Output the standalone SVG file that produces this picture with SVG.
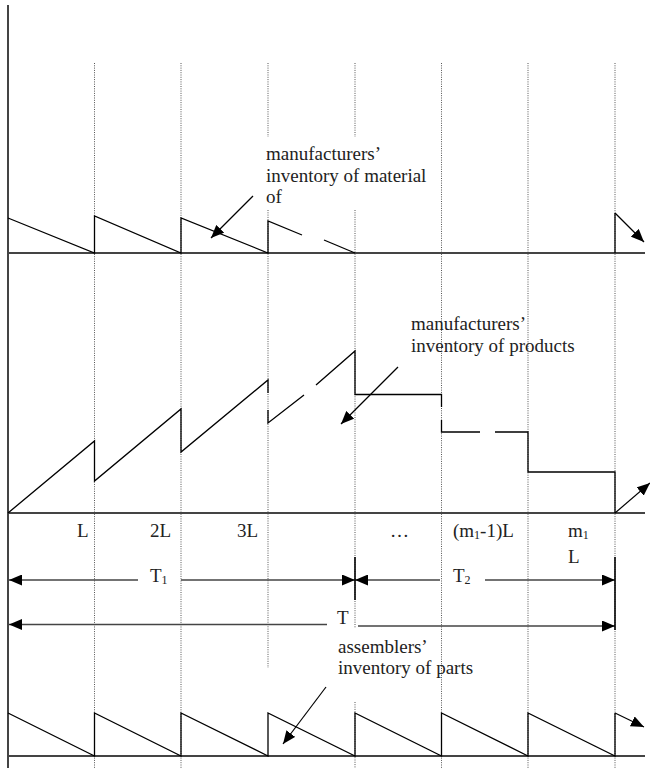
<svg xmlns="http://www.w3.org/2000/svg" width="650" height="768" viewBox="0 0 650 768">
<defs>
<marker id="ah" markerWidth="13" markerHeight="11" refX="13" refY="5.5" orient="auto" markerUnits="userSpaceOnUse">
<path d="M0,0 L13,5.5 L0,11 z" fill="#000"/>
</marker>
<style>
.grid{stroke:#555;stroke-width:1;stroke-dasharray:1 1.3;fill:none}
.base{stroke:#444;stroke-width:2;fill:none}
.curve{stroke:#000;stroke-width:1.3;fill:none}
.dim{stroke:#444;stroke-width:1.6;fill:none}
.tick{stroke:#000;stroke-width:1.6;fill:none}
.ptr{stroke:#000;stroke-width:1.2;fill:none}
text{font-family:"Liberation Serif","Times New Roman",serif;font-size:19px;fill:#222}
.sub{font-size:12px}
</style>
</defs>
<rect width="650" height="768" fill="#fff"/>
<g id="grid">
<line class="grid" x1="94.5" y1="63" x2="94.5" y2="768"/>
<line class="grid" x1="181" y1="63" x2="181" y2="768"/>
<line class="grid" x1="268" y1="63" x2="268" y2="137"/>
<line class="grid" x1="268" y1="210" x2="268" y2="668"/>
<line class="grid" x1="355" y1="63" x2="355" y2="137"/>
<line class="grid" x1="355" y1="210" x2="355" y2="628"/>
<line class="grid" x1="355" y1="702" x2="355" y2="768"/>
<line class="grid" x1="441.5" y1="63" x2="441.5" y2="768"/>
<line class="grid" x1="528" y1="63" x2="528" y2="768"/>
<line class="grid" x1="615" y1="63" x2="615" y2="768"/>
</g>
<g id="axes">
<line class="base" x1="8" y1="5" x2="8" y2="768"/>
<line class="base" x1="8" y1="253" x2="645" y2="253"/>
<line class="base" x1="8" y1="513" x2="645" y2="513"/>
<line class="base" x1="8" y1="756" x2="645" y2="756"/>
</g>
<g id="material-inventory">
<polyline class="curve" points="8,218 94.5,253 94.5,216 181,253 181,218 268,253 268,221 302,235"/>
<polyline class="curve" points="324,240 355,253"/>
<polyline class="curve" points="615,253 615,213"/>
</g>
<g id="product-inventory">
<polyline class="curve" points="8,513 94.5,441 94.5,481 181,409 181,452 268,380 268,393"/>
<polyline class="curve" points="268,410 268,423 304,395"/>
<polyline class="curve" points="316,385 355,351 355,394.5 441.5,394.5 441.5,407"/>
<polyline class="curve" points="441.5,420 441.5,432 480,432"/>
<polyline class="curve" points="495,432 528,432 528,472 615,472 615,513"/>
</g>
<g id="parts-inventory">
<polyline class="curve" points="8,713 94.5,756 94.5,713 181,756 181,713 268,756 268,713 355,756 355,713 441.5,756 441.5,713 528,756 528,713 615,756 615,713"/>
</g>
<g id="connectors">
<line class="ptr" x1="615" y1="213" x2="644" y2="242" marker-end="url(#ah)"/>
<line class="ptr" x1="615" y1="513" x2="650" y2="483" marker-end="url(#ah)"/>
<line class="ptr" x1="615" y1="713" x2="644" y2="727" marker-end="url(#ah)"/>
<line class="ptr" x1="253" y1="196" x2="211" y2="238" marker-end="url(#ah)"/>
<line class="ptr" x1="398" y1="367" x2="341" y2="424" marker-end="url(#ah)"/>
<line class="ptr" x1="326" y1="687" x2="283" y2="744" marker-end="url(#ah)"/>
<line class="dim" x1="138" y1="580" x2="9" y2="580" marker-end="url(#ah)"/>
<line class="dim" x1="181" y1="580" x2="355" y2="580" marker-end="url(#ah)"/>
<line class="dim" x1="440" y1="580" x2="355" y2="580" marker-end="url(#ah)"/>
<line class="dim" x1="485" y1="580" x2="615" y2="580" marker-end="url(#ah)"/>
<line class="dim" x1="327" y1="624.5" x2="9" y2="624.5" marker-end="url(#ah)"/>
<line class="dim" x1="358" y1="626" x2="615" y2="626" marker-end="url(#ah)"/>
<line class="tick" x1="355" y1="557" x2="355" y2="600"/>
<line class="tick" x1="615" y1="557" x2="615" y2="630"/>
</g>
<g id="labels">
<text x="266" y="160">manufacturers’</text>
<text x="266" y="182">inventory of material</text>
<text x="266" y="203">of</text>
<text x="411" y="330">manufacturers’</text>
<text x="411" y="352">inventory of products</text>
<text x="338" y="653">assemblers’</text>
<text x="338" y="674">inventory of parts</text>
<text x="77" y="537">L</text>
<text x="150" y="537">2L</text>
<text x="237" y="537">3L</text>
<text x="390" y="537">…</text>
<text x="453" y="537">(m<tspan class="sub" dy="2">1</tspan><tspan dy="-2">-1)L</tspan></text>
<text x="568" y="537">m<tspan class="sub" dy="2">1</tspan></text>
<text x="568" y="563">L</text>
<text x="150" y="582">T<tspan class="sub" dy="2">1</tspan></text>
<text x="453" y="582">T<tspan class="sub" dy="2">2</tspan></text>
<text x="337" y="624">T</text>
</g>
</svg>
